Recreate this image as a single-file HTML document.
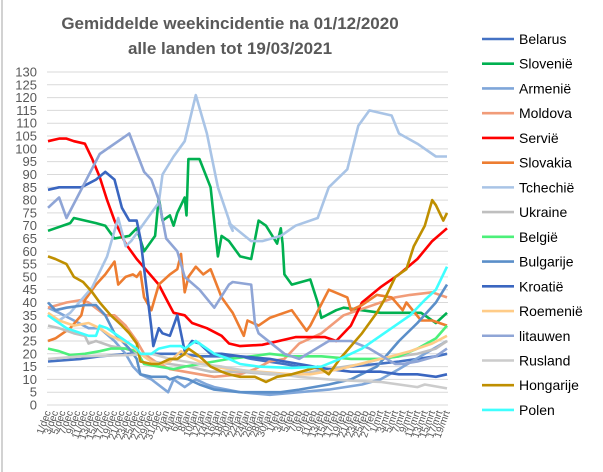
<!DOCTYPE html>
<html><head><meta charset="utf-8"><style>
body{margin:0;background:#fff;}
svg{display:block;font-family:"Liberation Sans",sans-serif;}
</style></head><body>
<svg id="chart" width="603" height="472">
<rect x="0" y="0" width="603" height="472" fill="#fff"/>
<line x1="2" y1="0" x2="2" y2="472" stroke="#a6a6a6"/>
<text x="230" y="29" text-anchor="middle" font-size="17" font-weight="bold" fill="#595959">Gemiddelde weekincidentie  na 01/12/2020</text>
<text x="230" y="54" text-anchor="middle" font-size="17" font-weight="bold" fill="#595959">alle landen tot 19/03/2021</text>
<g id="grid"></g><g id="ylab"></g><g id="xlab"></g><g id="series"></g><g id="legend"></g>
</svg>
<script>
const yTicks=[0,5,10,15,20,25,30,35,40,45,50,55,60,65,70,75,80,85,90,95,100,105,110,115,120,125,130];
const months=["dec","jan","feb","mrt"];
const monthLens=[31,31,28,19];
const names=["Belarus","Slovenië","Armenië","Moldova","Servië","Slovakia","Tchechië","Ukraine","België","Bulgarije","Kroatië","Roemenië","litauwen","Rusland","Hongarije","Polen"];
const colors=["#4472C4","#00B050","#7FA6D9","#F19C79","#FF0000","#ED7D31","#A9C4E6","#BFBFBF","#4CF07A","#5B8FC9","#3A66C0","#FFCC88","#8FA5D6","#CCCCCC","#BF8F00","#3FFFFF"];
const days=[
[0,9,14,22,36,41,52,55,64,68,76,82,89,95,100,105,108],
[0,6,7,13,15.5,18,22,24,26,29,30,31,33,34,35,37,37.5,38,41,44,46,47,49,52,55,57,59,62,63,63.5,64,66,71,73,74,78,80,90,101,105,108],
[0,3,7,11,14,18,21,23,25,28,32.5,34,37,40,43,45,52,60,68,76,85,90,95,102,108],
[0,5,9,11,15.5,18,21,24,26,29,33,37,41,45,52,56,60,64,68,74,80,86,90,94,98,104,108],
[0,3,5,7,10,12,14,16,18,21,24,27,30,32.5,34,37,39,43,47,49,52,58,67,75,78,82,85,90,95,100,104,108],
[0,2,6,9,10,13,15.5,18,19,21,23,24,25,26,28,30,33,35,36,37,38,40,42,44,47,49,50,53,54,57,60,66,70,71,76,81,82,85,89,93,96,97,101,104,108],
[0,3,6,12,16,19,21,22.5,30,31,34,37,40,43,46,50,49,55,58,63,67,73,76,81,84,87,93,95,100,105,108],
[0,3,7,10,11,13,17,21,25,28,33,38,44,52,60,68,76,85,90,95,100,105,108],
[0,3,6,10,14,17,21,24,26,30,34,37,41,45,49,55,60,66,74,82,90,95,100,105,108],
[0,2,5,10,13,15.5,18,20,22,24,25,28,32,33,35,38,41,45,52,63,68,76,82,89,95,100,105,108],
[0,3,9,13,15.5,18,20,22,24,25,28,28.5,30,31,33,35,37,39,41,44,47,52,60,68,76,82,90,95,100,105,108],
[0,3,7,11,14,17,20,22,25,28,30,33,36,38,41,45,49,57,66,71,79,87,93,98,104,108],
[0,3,5,14,22,26,28,30,32,35,37,41,45,49,50,55,56,57,64,68,76,82,87,94,96,100,105,108],
[0,9,22,28,33,41,47,55,63,68,76,82,90,95,100,102,108],
[0,2,5,7,9.5,12,14,17,20,22,24,25,28,30,33,35,37,38,41,44,47,49,52,56,59,62,66,71,73,76,79,85,89,91,94,97,99,102,104,105,107,108],
[0,2,5,9,11,13,14,16,18,21,24,25,28,30,33,36,37,40,43,45,49,52,57,66,74,79,85,90,94,98,102,105,108]
];
const vals=[
[17,18,19,20,20,19,19,18,16,15,14,15,16,17,18,19,20],
[68,71,73,71,70,65,66,69,60,66,81,72,74,70,75,81,74,96,96,85,58,66,64,58,57,72,70,63,69,63,51,47,49,40,34,37,38,36,36,32,36],
[38,36,33,30,30,25,20,15,12,10,5,10,7,10,8,7,5,4,5,6,8,10,14,20,25],
[38,40,41,40,35,35,31,25,20,17,14,13,12,11,12,14,17,18,24,28,35,38,40,42,43,44,42],
[103,104,104,103,102,96,89,80,72,63,57,52,47,40,36,35,32,30,27,24,23,23.5,26.5,26.5,25,31,40,46,51,57,64,69],
[25,26,30,35,41,47,51,56,47,50,51,50,52,42,37,47,51,53,59,44,50,54,51,53,42,38,36,27,33,31,34,37,29,31,45,42,37,39,43,42,37,40,33,33,31],
[35,33,36,46,58,73,62,64,79,90,97,103,121,106,85,68,71,64,64,66,70,73,85,92,109,115,113,106,102,97,97],
[31,30,28,27,24,25,23,22,20,17,16,15,13,13,12,12,14,16,18,19,20,22,25],
[22,21,19.5,20,21,22,22,21,16,15,14,15,16,17,18,19,20,19,19,18,18,19,22,26,31],
[40,37,38,39,39,35,28,25,22,18,12,11,11,10,11,10,8,6,5,5,6,8,10,15,25,32,40,47],
[84,85,85,88,91,88,77,72,72,65,30,23,30,28,27,35,21,25,24,20,20,19,18,16,14,13,13,12,12,11,12],
[36,33,31,32,30,27,25,24,20,17,16,17,21,19,17,15,14,13,12,12,14,17,19,21,24,27],
[77,81,73,98,106,91,88,80,65,60,50,45,38,47,48,47,32,28,20,18,25,25,22,16,16,17,19,22],
[18,19,19.5,20,18,16,15,13,12,11,10,9.5,9,8,7,8,6.5],
[58,57,55,50,48,44,40,35,31,28,24,17,16,16,18,18,20,22,19,15,13,12,11,11,9,11,12,14,15,12,18,28,36,41,50,53,62,70,80,78,72,75],
[35,33,30,28,27,27,31,30,28,25,22,20,20,22,23,23,22,25,22,20,18,16,15,14.5,15,18,22,27,31,35,41,45,54]
];
const NS="http://www.w3.org/2000/svg";
const X0=48,X1=447,Y0=405,Y1=72,VMAX=130,DMAX=108;
function xs(d){return X0+d*(X1-X0)/DMAX;}
function ys(v){return Y0-v*(Y0-Y1)/VMAX;}
function mk(tag,attrs,parent){const e=document.createElementNS(NS,tag);for(const k in attrs)e.setAttribute(k,attrs[k]);parent.appendChild(e);return e;}
const grid=document.getElementById('grid'),ylab=document.getElementById('ylab'),xlab=document.getElementById('xlab'),ser=document.getElementById('series'),leg=document.getElementById('legend');
yTicks.forEach(v=>{
  const l=mk('line',{x1:47,x2:448,y1:ys(v),y2:ys(v),stroke:'#D9D9D9','stroke-width':1},grid);
  
  
  const t=mk('text',{x:37,y:ys(v)+4.5,'text-anchor':'end','font-size':13,fill:'#595959'},ylab);
  t.textContent=v;
  
  
});
let d=0;
months.forEach((m,mi)=>{
  for(let day=1;day<=monthLens[mi];day++){
    if(d%2===0){
      const x=xs(d)+3,y=412;
      const t=mk('text',{x:x,y:y,'text-anchor':'end','font-size':10,fill:'#595959',transform:'rotate(-70 '+x+' '+y+')'},xlab);
      t.textContent=day+'/'+m;
      
      
    }
    d++;
  }
});
names.forEach((n,i)=>{
  const pts=days[i].map((dd,j)=>xs(dd).toFixed(1)+','+ys(vals[i][j]).toFixed(1)).join(' ');
  const p=mk('polyline',{points:pts,fill:'none',stroke:colors[i],'stroke-width':2.6,'stroke-linejoin':'round'},ser);
  
  
  const y=39+i*24.73;
  const g=mk('g',{},leg);
  
  
  mk('line',{x1:482,x2:514,y1:y,y2:y,stroke:colors[i],'stroke-width':2.6},g);
  const t=mk('text',{x:519,y:y+5,'font-size':14,fill:'#000'},g);
  t.textContent=n;
});
</script>
</body></html>
